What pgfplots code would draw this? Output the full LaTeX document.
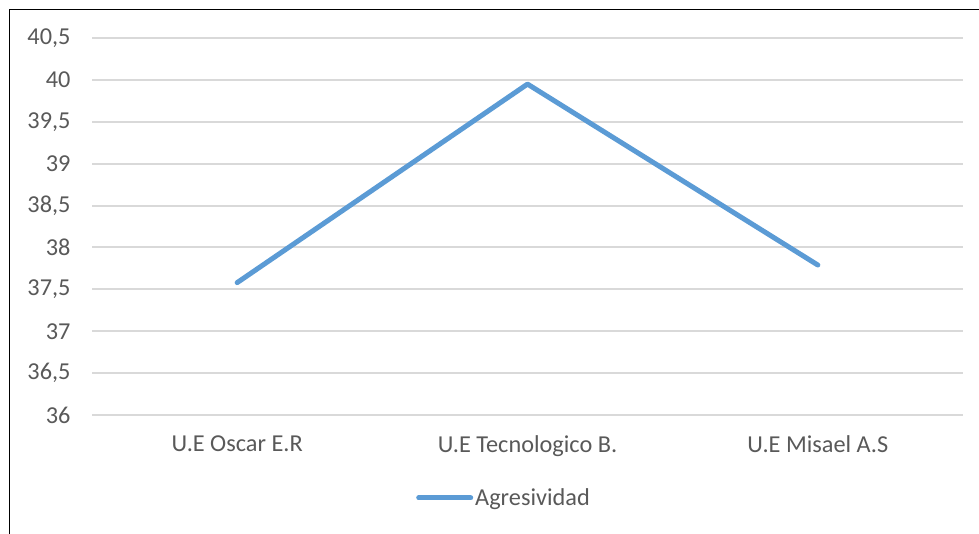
\documentclass[border=0pt]{standalone}
\usepackage{pgfplots}
\pgfplotsset{compat=1.18}
\usepackage{fontspec}
\setmainfont{Carlito}
\definecolor{lineblue}{HTML}{5B9BD5}
\definecolor{gridgray}{HTML}{D9D9D9}
\definecolor{txtgray}{HTML}{595959}
\begin{document}
\begin{tikzpicture}
\path[use as bounding box] (0,0) rectangle (979pt,533pt);
\draw[line width=1.5pt,black] (9.5pt,-2pt) -- (9.5pt,523.5pt) -- (981pt,523.5pt);
\begin{axis}[
  at={(92pt,118pt)}, anchor=south west,
  scale only axis, width=871pt, height=377pt,
  xmin=-0.5, xmax=2.5, ymin=36, ymax=40.5,
  xtick={0,1,2},
  xticklabels={U.E Oscar E.R, U.E Tecnologico B., U.E Misael A.S},
  ytick={36,36.5,37,37.5,38,38.5,39,39.5,40,40.5},
  yticklabels={36,{36,5},37,{37,5},38,{38,5},39,{39,5},40,{40,5}},
  ymajorgrids, grid style={gridgray, line width=2pt},
  axis line style={draw=none},
  major tick length=0pt,
  ticklabel style={font=\fontsize{24.3}{28}\selectfont, text=txtgray},
  yticklabel style={xshift=-18pt},
  xticklabel style={yshift=-17pt},
  legend style={at={(0.473,-0.22)}, anchor=center, draw=none, fill=none,
    font=\fontsize{24.3}{28}\selectfont, text=txtgray, inner sep=0pt},
  legend image code/.code={\draw[#1, line width=5pt, line cap=round] (0pt,0pt) -- (52pt,0pt);},
  legend cell align=left,
]
\addplot[lineblue, line width=5pt, line cap=round, line join=round] coordinates {(0,37.58) (1,39.95) (2,37.79)};
\addlegendentry{Agresividad}
\end{axis}
\end{tikzpicture}
\end{document}
